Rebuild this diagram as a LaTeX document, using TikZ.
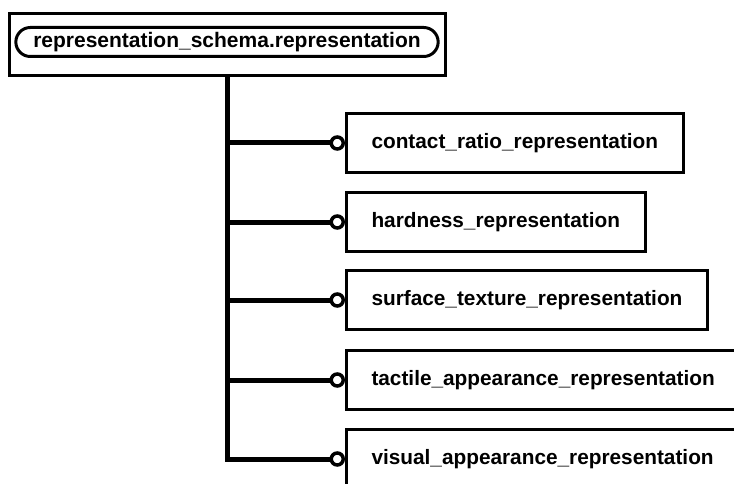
\documentclass[tikz,border=0pt]{standalone}
\usepackage{fontspec}
\setmainfont{Liberation Sans}
\usetikzlibrary{positioning,shapes.misc}

\begin{document}
\begin{tikzpicture}[x=1pt, y=-1pt,
  entbox/.style={draw, line width=3pt, rectangle, anchor=west, minimum height=59pt, inner xsep=25pt, font=\bfseries\fontsize{20.8}{24}\selectfont},
  optcirc/.style={draw, line width=3.5pt, circle, fill=white, minimum size=12pt, inner sep=0pt},
  rel/.style={line width=5pt}]
\useasboundingbox (0,0) rectangle (734,484);
\node[draw, line width=3pt, rectangle, minimum width=436pt, minimum height=62pt] (schema) at (227,45) {};
\node[draw, line width=3pt, rounded rectangle, minimum width=429pt, minimum height=29pt, font=\bfseries\fontsize{21}{24}\selectfont] (rep) at (227,42) {representation\_schema.representation};

\node[entbox] (contact) at (345,143) {contact\_ratio\_representation};
\node[entbox] (hard) at (345,222) {hardness\_representation};
\node[entbox] (surf) at (345,300) {surface\_texture\_representation};
\node[entbox] (tact) at (345,380) {tactile\_appearance\_representation};
\node[entbox] (vis) at (345,459) {visual\_appearance\_representation};

\node[optcirc, left=0pt of contact] (c1) {};
\node[optcirc, left=0pt of hard] (c2) {};
\node[optcirc, left=0pt of surf] (c3) {};
\node[optcirc, left=0pt of tact] (c4) {};
\node[optcirc, left=0pt of vis] (c5) {};

\draw[rel] (schema.south) |- (c1);
\draw[rel] (schema.south) |- (c2);
\draw[rel] (schema.south) |- (c3);
\draw[rel] (schema.south) |- (c4);
\draw[rel] (schema.south) |- (c5);
\end{tikzpicture}
\end{document}
